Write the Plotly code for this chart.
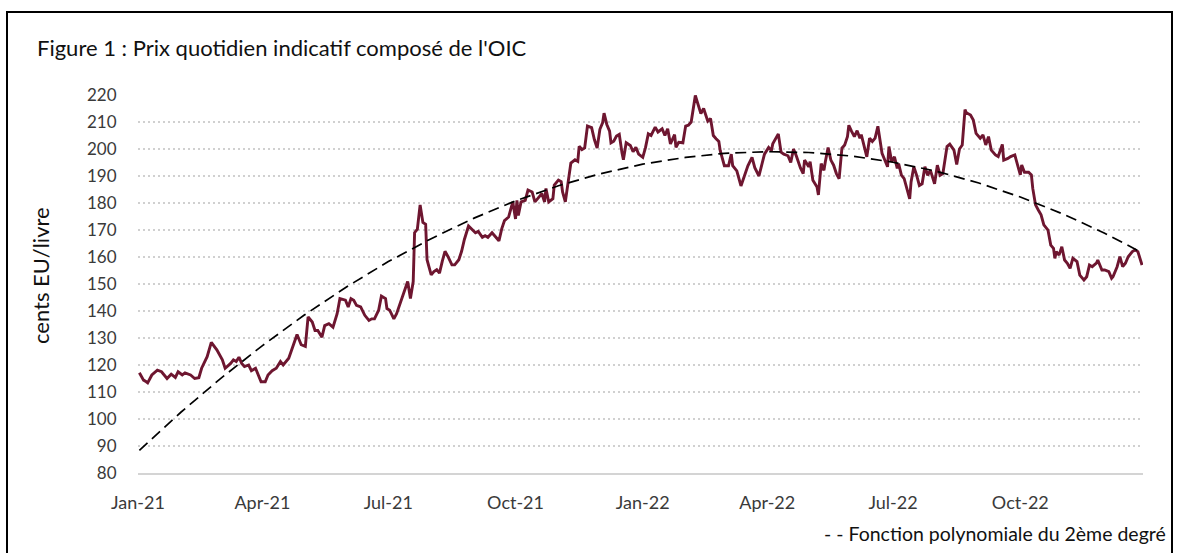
import plotly.graph_objects as go

# ---- Data ----
price_dates = [
    "2021-01-02", "2021-01-05", "2021-01-07", "2021-01-08", "2021-01-11", "2021-01-15", "2021-01-18",
    "2021-01-22", "2021-01-25", "2021-01-28", "2021-01-30", "2021-02-02", "2021-02-04", "2021-02-08",
    "2021-02-11", "2021-02-14", "2021-02-16", "2021-02-20", "2021-02-23", "2021-02-27", "2021-03-03",
    "2021-03-05", "2021-03-09", "2021-03-11", "2021-03-13", "2021-03-15", "2021-03-17", "2021-03-19",
    "2021-03-22", "2021-03-24", "2021-03-27", "2021-03-29", "2021-03-31", "2021-04-03", "2021-04-05",
    "2021-04-08", "2021-04-11", "2021-04-14", "2021-04-16", "2021-04-20", "2021-04-23", "2021-04-26",
    "2021-04-29", "2021-05-02",
    "2021-05-04", "2021-05-07", "2021-05-09", "2021-05-11", "2021-05-14", "2021-05-16", "2021-05-19",
    "2021-05-22", "2021-05-25", "2021-05-27", "2021-05-31", "2021-06-02", "2021-06-04", "2021-06-06",
    "2021-06-08", "2021-06-11", "2021-06-14", "2021-06-17", "2021-06-19", "2021-06-21", "2021-06-24",
    "2021-06-26", "2021-06-29", "2021-06-30", "2021-07-02", "2021-07-05", "2021-07-07", "2021-07-09",
    "2021-07-13", "2021-07-15", "2021-07-17", "2021-07-19", "2021-07-20", "2021-07-22", "2021-07-24",
    "2021-07-26", "2021-07-28", "2021-07-29", "2021-08-01", "2021-08-03", "2021-08-05", "2021-08-07",
    "2021-08-09", "2021-08-11", "2021-08-13", "2021-08-16", "2021-08-18", "2021-08-21", "2021-08-23",
    "2021-08-25", "2021-08-28",
    "2021-08-30", "2021-09-02", "2021-09-04", "2021-09-07", "2021-09-09", "2021-09-11", "2021-09-14",
    "2021-09-16", "2021-09-19", "2021-09-21", "2021-09-23", "2021-09-26", "2021-09-28", "2021-09-29",
    "2021-10-01", "2021-10-02", "2021-10-03", "2021-10-05", "2021-10-08", "2021-10-10", "2021-10-13",
    "2021-10-15", "2021-10-17", "2021-10-20", "2021-10-22", "2021-10-23", "2021-10-25", "2021-10-28",
    "2021-10-29", "2021-11-01", "2021-11-03", "2021-11-04", "2021-11-06", "2021-11-08", "2021-11-10",
    "2021-11-13", "2021-11-15", "2021-11-16", "2021-11-18", "2021-11-20", "2021-11-22", "2021-11-25",
    "2021-11-27", "2021-11-29", "2021-12-01", "2021-12-03", "2021-12-04", "2021-12-06", "2021-12-08",
    "2021-12-09", "2021-12-11", "2021-12-13", "2021-12-15", "2021-12-17", "2021-12-18", "2021-12-20",
    "2021-12-23", "2021-12-25",
    "2021-12-27", "2021-12-29", "2022-01-01", "2022-01-03", "2022-01-05", "2022-01-07", "2022-01-10",
    "2022-01-12", "2022-01-15", "2022-01-17", "2022-01-19", "2022-01-21", "2022-01-24", "2022-01-25",
    "2022-01-27", "2022-01-30", "2022-02-01", "2022-02-03", "2022-02-05", "2022-02-08", "2022-02-10",
    "2022-02-12", "2022-02-14", "2022-02-16", "2022-02-17", "2022-02-19", "2022-02-21", "2022-02-23",
    "2022-02-25", "2022-02-26", "2022-02-28", "2022-03-01", "2022-03-04", "2022-03-06", "2022-03-07",
    "2022-03-10", "2022-03-13", "2022-03-16", "2022-03-18", "2022-03-21", "2022-03-23", "2022-03-26",
    "2022-03-28", "2022-03-30", "2022-04-02", "2022-04-04", "2022-04-05", "2022-04-07", "2022-04-09",
    "2022-04-11", "2022-04-13", "2022-04-16", "2022-04-18", "2022-04-20", "2022-04-22", "2022-04-25",
    "2022-04-27", "2022-04-28", "2022-05-01", "2022-05-02", "2022-05-04", "2022-05-07", "2022-05-08",
    "2022-05-10", "2022-05-12", "2022-05-13", "2022-05-15", "2022-05-17", "2022-05-19", "2022-05-21",
    "2022-05-23", "2022-05-25", "2022-05-27", "2022-05-29", "2022-05-30", "2022-06-01", "2022-06-03",
    "2022-06-05", "2022-06-07", "2022-06-08", "2022-06-11", "2022-06-12", "2022-06-14", "2022-06-16",
    "2022-06-18", "2022-06-20", "2022-06-23", "2022-06-25", "2022-06-27", "2022-06-28", "2022-06-30",
    "2022-07-02", "2022-07-04", "2022-07-05", "2022-07-07", "2022-07-09", "2022-07-11", "2022-07-13",
    "2022-07-14", "2022-07-16", "2022-07-18", "2022-07-20", "2022-07-22", "2022-07-24", "2022-07-26",
    "2022-07-28", "2022-07-31", "2022-08-02", "2022-08-04", "2022-08-06", "2022-08-09", "2022-08-11",
    "2022-08-14", "2022-08-16", "2022-08-18", "2022-08-20", "2022-08-22", "2022-08-23", "2022-08-26",
    "2022-08-28", "2022-08-30", "2022-09-02", "2022-09-04", "2022-09-06", "2022-09-08", "2022-09-10",
    "2022-09-13", "2022-09-15", "2022-09-18", "2022-09-19", "2022-09-22", "2022-09-24", "2022-09-27",
    "2022-09-29", "2022-10-01", "2022-10-02", "2022-10-04", "2022-10-07", "2022-10-09", "2022-10-10",
    "2022-10-12", "2022-10-14", "2022-10-16", "2022-10-18", "2022-10-21", "2022-10-23", "2022-10-25",
    "2022-10-26", "2022-10-27", "2022-10-29", "2022-10-31", "2022-11-02", "2022-11-04", "2022-11-06",
    "2022-11-08", "2022-11-11", "2022-11-13", "2022-11-16", "2022-11-18", "2022-11-20", "2022-11-22",
    "2022-11-25", "2022-11-26", "2022-11-29", "2022-12-01", "2022-12-04", "2022-12-06", "2022-12-07",
    "2022-12-10", "2022-12-12", "2022-12-14", "2022-12-16", "2022-12-18", "2022-12-21", "2022-12-23",
    "2022-12-25", "2022-12-28",
]

price_values = [
    117.1, 114.4, 113.8, 113.4, 116.3, 118.1, 117.5,
    115.0, 116.6, 115.4, 117.5, 116.3, 117.1, 116.3,
    115.0, 115.3, 118.8, 123.1, 128.4, 125.6, 121.9,
    118.8, 120.6, 121.9, 121.3, 122.9, 120.6, 119.4,
    120.0, 117.9, 118.8, 116.3, 113.8, 113.8, 116.3,
    117.9, 118.8, 121.3, 120.0, 122.5, 126.9, 131.3,
    127.5, 126.9,
    137.8, 135.9, 132.8, 132.8, 130.3, 134.6, 135.3,
    134.0, 139.0, 144.6, 144.0, 141.5, 144.6, 144.0,
    142.1, 141.5, 138.4, 136.5, 137.1, 137.1, 140.3,
    145.5, 144.6, 140.9, 140.3, 137.1, 139.0, 142.1,
    147.8, 150.9, 144.6, 150.9, 169.0, 170.3, 179.3,
    172.8, 172.1, 159.0, 153.4, 154.6, 155.3, 154.0,
    158.4, 162.1, 160.3, 157.1, 157.1, 159.0, 162.1,
    166.5, 171.5,
    170.4, 169.0, 169.5, 167.3, 167.9, 167.3, 169.0,
    167.9, 166.0, 170.4, 173.5, 174.8, 178.5, 180.4,
    174.1, 181.0, 175.4, 180.4, 181.0, 184.8, 184.1,
    180.4, 181.6, 183.5, 180.4, 185.4, 180.4, 181.6,
    186.6, 188.5, 187.9, 184.1, 180.4, 187.3, 194.8,
    196.0, 195.4, 201.0, 199.8, 200.4, 208.5, 207.9,
    203.5, 200.4, 207.3, 209.8, 213.3, 209.1, 206.6,
    202.3, 202.9, 204.8, 205.4, 198.5, 196.0, 202.3,
    201.3, 199.0,
    200.6, 198.1, 196.9, 200.6, 205.6, 205.0, 208.1,
    206.3, 207.5, 205.0, 207.5, 201.9, 205.3, 200.6,
    202.5, 202.3, 208.5, 208.8, 210.0, 219.8, 216.3,
    213.1, 215.0, 211.5, 210.3, 211.3, 205.0, 203.8,
    202.8, 199.4, 195.0, 193.8, 193.8, 198.1, 193.8,
    191.9, 186.3, 190.6, 193.8, 196.9, 193.1, 190.0,
    194.4, 198.1, 200.6, 199.4, 201.9, 203.8, 205.6,
    198.8, 198.1, 197.5, 195.0, 200.0, 197.5, 193.0,
    190.9, 195.9, 193.4, 195.3, 188.4, 185.9, 183.0,
    194.6, 192.1, 195.3, 200.5, 195.9, 194.0, 190.9,
    189.0, 200.3, 201.5, 204.6, 208.8, 206.5, 204.6,
    206.8, 204.0, 205.3, 199.6, 197.1, 204.0, 202.8,
    204.0, 208.4, 198.4, 195.9, 193.4, 200.9, 195.3,
    197.1, 192.8, 194.6, 190.3, 189.0, 185.3, 181.5,
    187.8, 193.4, 190.3, 186.5, 187.1, 193.4, 190.3,
    192.1, 187.1, 194.0, 190.3, 190.9, 200.9, 201.8,
    199.6, 194.3, 200.0, 201.5, 214.6, 213.4, 212.6,
    210.7, 205.8, 204.0, 205.2, 201.5, 204.6, 199.6,
    197.8, 197.2, 201.7, 195.9, 196.5, 197.2, 197.8,
    193.5, 190.4, 194.1, 191.4, 191.4, 190.4, 185.4,
    179.3, 177.4, 175.6, 171.9, 170.0, 164.4, 163.2,
    159.5, 162.0, 160.7, 163.8, 158.9, 157.7, 155.8,
    159.5, 158.3, 153.3, 151.5, 152.7, 157.0, 156.4,
    157.7, 158.9, 155.2, 155.2, 154.6, 152.1, 152.7,
    156.4, 160.1, 156.4, 157.7, 160.1, 162.0, 162.6,
    162.0, 157.0,
]

# 2nd-degree polynomial trend
trend_dates = [
    "2021-01-02", "2021-02-01", "2021-03-01", "2021-04-01", "2021-05-01", "2021-06-01",
    "2021-07-01", "2021-08-01", "2021-09-01", "2021-10-01", "2021-11-01", "2021-12-01",
    "2022-01-01", "2022-02-01", "2022-03-01", "2022-04-01", "2022-05-01", "2022-06-01",
    "2022-07-01", "2022-08-01", "2022-09-01", "2022-10-01", "2022-11-01", "2022-12-01",
    "2022-12-28",
]
trend_values = [
    88.4, 102.5, 114.7, 127.2, 138.4, 149.0,
    158.3, 166.8, 174.4, 180.8, 186.4, 190.8,
    194.4, 196.9, 198.4, 199.0, 198.7, 197.4,
    195.1, 191.8, 187.4, 182.2, 175.9, 168.8,
    161.6,
]

x_tick_dates = ["2021-01-01", "2021-04-01", "2021-07-01", "2021-10-01",
                "2022-01-01", "2022-04-01", "2022-07-01", "2022-10-01"]
y_ticks = list(range(80, 221, 10))

title_text = "Figure 1 : Prix quotidien indicatif composé de l'OIC"
y_title_text = "cents EU/livre"
legend_text = "- - Fonction polynomiale du 2ème degré"

# ---- Figure ----
W, H = 1179, 553
PLOT_X0, PLOT_X1 = 138, 1143
PLOT_Y0, PLOT_Y1 = 95, 473
L, R, T, B = PLOT_X0, W - PLOT_X1, PLOT_Y0, H - PLOT_Y1
pw, ph = W - L - R, H - T - B


def px_x(p):
    """page pixel x -> paper coordinate"""
    return (p - L) / pw


def px_y(p):
    """page pixel y -> paper coordinate"""
    return (H - B - p) / ph


FONT = "Lato"
TXT = "#3a3a3a"

fig = go.Figure()
fig.add_trace(go.Scatter(
    x=price_dates, y=price_values, mode="lines",
    line=dict(color="#6E1630", width=2.9),
    name="Prix indicatif composé", showlegend=False,
))
fig.add_trace(go.Scatter(
    x=trend_dates, y=trend_values, mode="lines",
    line=dict(color="#000000", width=1.7, dash="11px,6px"),
    name="Fonction polynomiale du 2ème degré", showlegend=False,
))

fig.update_layout(
    width=W, height=H,
    margin=dict(l=L, r=R, t=T, b=B, pad=0),
    paper_bgcolor="white", plot_bgcolor="white",
    font=dict(family=FONT, color=TXT, size=18),
    showlegend=False,
)
fig.update_xaxes(
    type="date",
    range=["2021-01-01", "2022-12-28 17:00"],
    tickvals=x_tick_dates, tickformat="%b-%y",
    showgrid=False, zeroline=False,
    showline=True, linecolor="#D4D4D4", linewidth=2,
    ticks="outside", ticklen=12, tickcolor="rgba(0,0,0,0)",
    tickfont=dict(family=FONT, size=18, color=TXT),
)
fig.update_yaxes(
    range=[80, 220], tickvals=y_ticks,
    showgrid=True, gridcolor="#D0D0D0", gridwidth=2, griddash="2px,3px",
    zeroline=False, showline=False,
    ticks="outside", ticklen=17, tickcolor="rgba(0,0,0,0)",
    tickfont=dict(family=FONT, size=17, color=TXT),
)

fig.add_annotation(
    text=title_text, xref="paper", yref="paper",
    x=px_x(35), y=px_y(47), xanchor="left", yanchor="middle",
    showarrow=False, font=dict(family=FONT, size=22, color="#111111"),
)
fig.add_annotation(
    text=y_title_text, xref="paper", yref="paper",
    x=px_x(40), y=px_y(276), xanchor="center", yanchor="middle",
    textangle=-90, showarrow=False, font=dict(family=FONT, size=22, color="#111111"),
)
fig.add_annotation(
    text=legend_text, xref="paper", yref="paper",
    x=px_x(1168), y=px_y(533), xanchor="right", yanchor="middle",
    showarrow=False, font=dict(family=FONT, size=19.5, color="#111111"),
)
fig.add_shape(
    type="rect", xref="paper", yref="paper",
    x0=px_x(7), x1=px_x(1172), y0=px_y(575), y1=px_y(12),
    line=dict(color="#000000", width=2), fillcolor="rgba(0,0,0,0)", layer="above",
)

# remove the default 8px page margin so the figure sits at the window origin
fig.write_html(
    "out.html",
    config={"displayModeBar": False},
    post_script="document.body.style.margin='0px';",
)
